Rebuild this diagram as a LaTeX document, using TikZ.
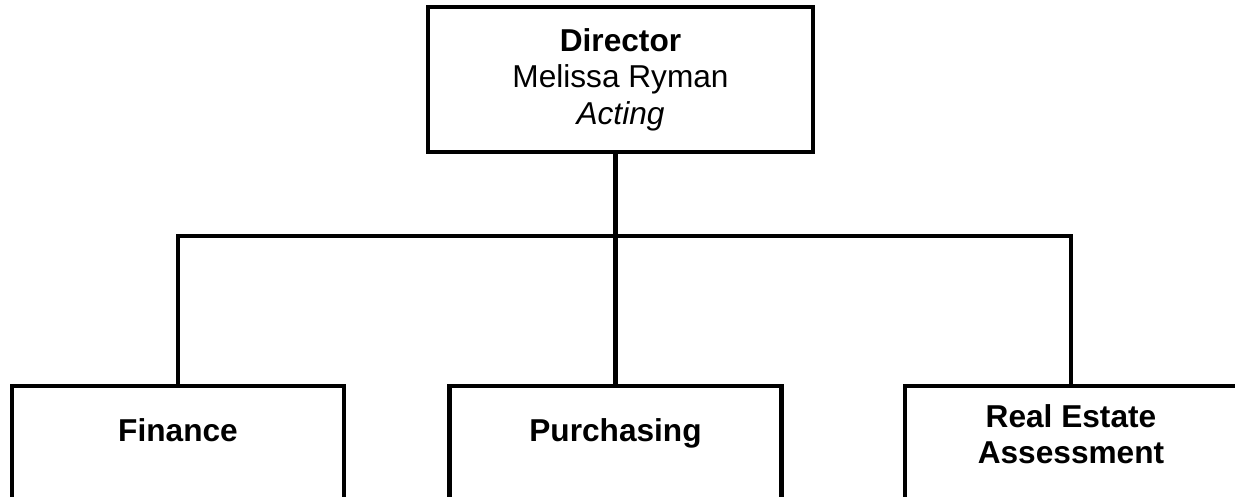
\documentclass[tikz,border=0pt]{standalone}
\usepackage{fontspec}
\setmainfont{Liberation Sans}
\usetikzlibrary{positioning}

\begin{document}
\begin{tikzpicture}[
        office/.style={rectangle, draw, line width=2.3pt, minimum width=7.70cm, minimum height=2.90cm, align=center, font=\fontsize{18}{20.8}\selectfont},
        unit/.style={rectangle, draw, line width=2.3pt, minimum width=6.64cm, minimum height=2.90cm},
        unitname/.style={inner sep=0pt, align=center, font=\fontsize{18}{20.8}\selectfont\bfseries},
        link/.style={line width=2.3pt}
    ]
        % frame of the page
        \useasboundingbox (0,0) rectangle (24.7,-9.92);
        \clip (0,0) rectangle (24.7,-9.92);

        % Director at the top
        \node[office] (director) at (12.41,-1.59) {\textbf{Director}\\Melissa Ryman\\\textit{Acting}};

        % Three units below
        \node[unit] (finance) at (3.56,-9.17) {};
        \node[unit] (purchasing) at (12.31,-9.17) {};
        \node[unit] (estate) at (21.42,-9.17) {};
        \node[unitname, anchor=base] (finance_name) at ([yshift=-1.16cm]finance.north) {Finance};
        \node[unitname, anchor=base] (purchasing_name) at ([yshift=-1.16cm]purchasing.north) {Purchasing};
        \node[unitname] (estate_name) at ([yshift=-1.0cm]estate.north) {Real Estate\\Assessment};

        % Connectors
        \coordinate (bar) at (12.31,-4.72);
        \draw[link] (purchasing |- director.south) -- (bar);
        \draw[link] (finance.north) |- (bar) -| (estate.north);
        \draw[link] (bar) -- (purchasing.north);

    \end{tikzpicture}
\end{document}
